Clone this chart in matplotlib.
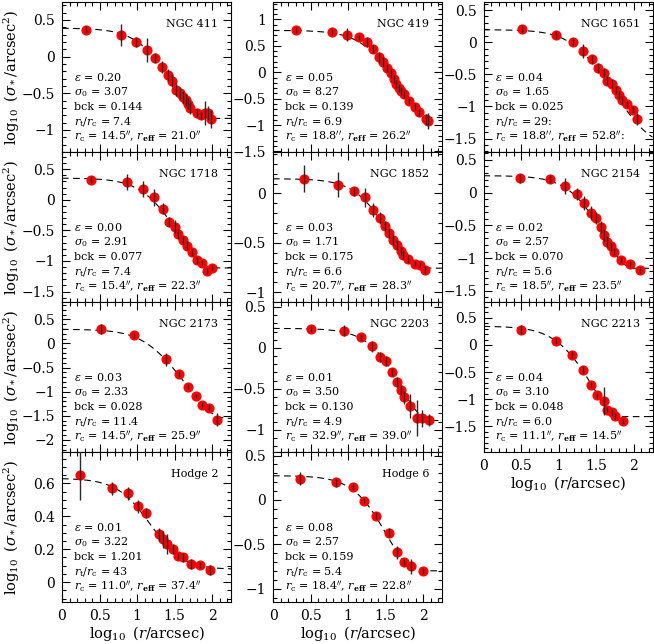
import numpy as np
import matplotlib.pyplot as plt
from matplotlib.ticker import MultipleLocator, FuncFormatter

plt.rcParams['font.family'] = 'DejaVu Serif'
plt.rcParams['mathtext.fontset'] = 'dejavuserif'

# cluster names and fit parameters printed in each panel
names = ["NGC 411", "NGC 419", "NGC 1651", "NGC 1718", "NGC 1852", "NGC 2154",
         "NGC 2173", "NGC 2203", "NGC 2213", "Hodge 2", "Hodge 6"]
eps = ["0.20", "0.05", "0.04", "0.00", "0.03", "0.02", "0.03", "0.01", "0.04", "0.01", "0.08"]
sigma0 = ["3.07", "8.27", "1.65", "2.91", "1.71", "2.57", "2.33", "3.50", "3.10", "3.22", "2.57"]
bck = ["0.144", "0.139", "0.025", "0.077", "0.175", "0.070", "0.028", "0.130", "0.048", "1.201", "0.159"]
rt_rc = ["7.4", "6.9", "29:", "7.4", "6.6", "5.6", "11.4", "4.9", "6.0", "43", "5.4"]
rc = ["14.5", "18.8", "18.8", "15.4", "20.7", "18.5", "14.5", "32.9", "11.1", "11.0", "18.4"]
reff = ["21.0", "26.2", "52.8", "22.3", "28.3", "23.5", "25.9", "39.0", "14.5", "37.4", "22.8"]
reff_flag = ["", "", ":", "", "", "", "", "", "", "", ""]

# measured profiles: log10 r, log10 sigma, error
ngc411_x = [0.32, 0.78, 0.99, 1.13, 1.24, 1.33, 1.41, 1.47, 1.52, 1.57, 1.61, 1.65, 1.68, 1.71, 1.80, 1.85, 1.91, 1.94, 1.98]
ngc411_y = [0.37, 0.30, 0.20, 0.09, -0.02, -0.14, -0.25, -0.33, -0.45, -0.50, -0.55, -0.59, -0.64, -0.70, -0.77, -0.80, -0.77, -0.77, -0.85]
ngc411_e = [0.05, 0.15, 0.07, 0.16, 0.07, 0.08, 0.08, 0.09, 0.09, 0.08, 0.08, 0.08, 0.08, 0.08, 0.05, 0.05, 0.16, 0.10, 0.12]

ngc419_x = [0.31, 0.78, 0.99, 1.15, 1.25, 1.33, 1.41, 1.47, 1.52, 1.57, 1.61, 1.64, 1.68, 1.71, 1.75, 1.81, 1.89, 1.95, 2.04, 2.07]
ngc419_y = [0.80, 0.76, 0.71, 0.66, 0.57, 0.44, 0.28, 0.19, 0.08, -0.02, -0.13, -0.22, -0.30, -0.36, -0.41, -0.54, -0.65, -0.76, -0.89, -0.92]
ngc419_e = [0.05, 0.06, 0.12, 0.05, 0.10, 0.08, 0.10, 0.10, 0.08, 0.08, 0.08, 0.08, 0.08, 0.08, 0.08, 0.06, 0.06, 0.06, 0.10, 0.15]

ngc1651_x = [0.51, 0.97, 1.19, 1.33, 1.44, 1.52, 1.60, 1.65, 1.71, 1.76, 1.80, 1.85, 1.91, 1.99, 2.04]
ngc1651_y = [0.21, 0.11, 0.01, -0.14, -0.27, -0.40, -0.48, -0.60, -0.65, -0.75, -0.82, -0.90, -0.96, -1.05, -1.20]
ngc1651_e = [0.06, 0.06, 0.06, 0.11, 0.07, 0.08, 0.07, 0.07, 0.07, 0.06, 0.06, 0.06, 0.05, 0.05, 0.09]

ngc1718_x = [0.38, 0.86, 1.08, 1.22, 1.34, 1.42, 1.50, 1.55, 1.61, 1.67, 1.73, 1.80, 1.87, 1.93, 2.00]
ngc1718_y = [0.33, 0.29, 0.18, 0.04, -0.15, -0.36, -0.44, -0.56, -0.66, -0.75, -0.86, -0.99, -1.04, -1.16, -1.11]
ngc1718_e = [0.06, 0.13, 0.13, 0.14, 0.09, 0.08, 0.11, 0.08, 0.07, 0.07, 0.06, 0.06, 0.05, 0.05, 0.04]

ngc1852_x = [0.41, 0.86, 1.08, 1.22, 1.33, 1.42, 1.49, 1.55, 1.60, 1.65, 1.70, 1.73, 1.80, 1.89, 1.96, 2.02]
ngc1852_y = [0.15, 0.09, 0.02, -0.04, -0.17, -0.25, -0.33, -0.40, -0.47, -0.52, -0.58, -0.62, -0.66, -0.71, -0.72, -0.78]
ngc1852_e = [0.14, 0.13, 0.05, 0.10, 0.07, 0.06, 0.05, 0.05, 0.05, 0.05, 0.04, 0.04, 0.04, 0.03, 0.03, 0.04]

ngc2154_x = [0.48, 0.89, 1.09, 1.24, 1.34, 1.43, 1.50, 1.56, 1.61, 1.65, 1.70, 1.74, 1.83, 1.95, 2.08]
ngc2154_y = [0.22, 0.21, 0.10, -0.02, -0.16, -0.31, -0.39, -0.52, -0.65, -0.75, -0.82, -0.90, -1.03, -1.09, -1.18]
ngc2154_e = [0.07, 0.06, 0.12, 0.09, 0.11, 0.11, 0.09, 0.09, 0.09, 0.08, 0.07, 0.06, 0.04, 0.04, 0.05]

ngc2173_x = [0.52, 0.96, 1.39, 1.56, 1.68, 1.78, 1.87, 1.96, 2.06]
ngc2173_y = [0.30, 0.17, -0.33, -0.64, -0.90, -1.09, -1.28, -1.33, -1.58]
ngc2173_e = [0.10, 0.05, 0.14, 0.06, 0.05, 0.05, 0.06, 0.07, 0.13]

ngc2203_x = [0.50, 0.95, 1.17, 1.32, 1.43, 1.51, 1.59, 1.65, 1.71, 1.75, 1.82, 1.92, 1.98, 2.08]
ngc2203_y = [0.23, 0.21, 0.13, 0.02, -0.11, -0.16, -0.29, -0.42, -0.51, -0.60, -0.71, -0.85, -0.86, -0.88]
ngc2203_e = [0.04, 0.07, 0.04, 0.07, 0.06, 0.06, 0.05, 0.06, 0.06, 0.08, 0.15, 0.22, 0.10, 0.07]

ngc2213_x = [0.50, 0.96, 1.18, 1.32, 1.43, 1.51, 1.60, 1.65, 1.71, 1.75, 1.86]
ngc2213_y = [0.28, 0.07, -0.18, -0.46, -0.73, -0.93, -1.03, -1.19, -1.24, -1.31, -1.40]
ngc2213_e = [0.08, 0.06, 0.06, 0.07, 0.04, 0.04, 0.25, 0.05, 0.06, 0.05, 0.06]

hodge2_x = [0.24, 0.67, 0.88, 1.01, 1.12, 1.29, 1.35, 1.40, 1.48, 1.55, 1.61, 1.72, 1.84, 1.97]
hodge2_y = [0.65, 0.57, 0.54, 0.46, 0.42, 0.29, 0.26, 0.23, 0.20, 0.16, 0.15, 0.11, 0.105, 0.075]
hodge2_e = [0.15, 0.04, 0.04, 0.04, 0.03, 0.04, 0.05, 0.06, 0.03, 0.02, 0.03, 0.03, 0.02, 0.03]

hodge6_x = [0.36, 0.84, 1.06, 1.21, 1.37, 1.54, 1.65, 1.75, 1.84, 2.00]
hodge6_y = [0.24, 0.20, 0.15, -0.01, -0.18, -0.37, -0.59, -0.70, -0.75, -0.80]
hodge6_e = [0.07, 0.05, 0.04, 0.03, 0.04, 0.05, 0.07, 0.04, 0.08, 0.03]

profiles = [(ngc411_x, ngc411_y, ngc411_e), (ngc419_x, ngc419_y, ngc419_e),
            (ngc1651_x, ngc1651_y, ngc1651_e), (ngc1718_x, ngc1718_y, ngc1718_e),
            (ngc1852_x, ngc1852_y, ngc1852_e), (ngc2154_x, ngc2154_y, ngc2154_e),
            (ngc2173_x, ngc2173_y, ngc2173_e), (ngc2203_x, ngc2203_y, ngc2203_e),
            (ngc2213_x, ngc2213_y, ngc2213_e), (hodge2_x, hodge2_y, hodge2_e),
            (hodge6_x, hodge6_y, hodge6_e)]

# the dashed curve in the NGC 2203 panel sits below its printed fit; match the drawn one
curve_fix = {"NGC 2203": (2.5, 28.0)}

ylims = [(-1.30, 0.745), (-1.51, 1.33), (-1.71, 0.625), (-1.67, 0.78),
         (-1.10, 0.42), (-1.67, 0.62), (-2.25, 0.86), (-1.27, 0.56),
         (-1.97, 0.79), (-0.12, 0.79), (-1.15, 0.54)]


def king(r, k, r_c, ratio, b):
    t = 1.0 / np.sqrt(1.0 + ratio ** 2)
    s = 1.0 / np.sqrt(1.0 + (r / r_c) ** 2) - t
    s = np.where(r < ratio * r_c, s, 0.0)
    return k * s ** 2 + b


def fmt(v, pos):
    v = round(v, 3) + 0.0
    return ("%g" % v).replace("-", "\u2212")


W, H = 654, 644
fig = plt.figure(figsize=(W / 100, H / 100), dpi=100)
col_left = [62, 273, 483.5]
ax_w, ax_h = 169, 150
row_top = [2, 152, 302, 452]

xm = np.linspace(0, 2.25, 400)

for i, name in enumerate(names):
    row, col = i // 3, i % 3
    ax = fig.add_axes([col_left[col] / W, 1 - (row_top[row] + ax_h) / H, ax_w / W, ax_h / H])

    k, r_c = float(sigma0[i]), float(rc[i])
    if name in curve_fix:
        k, r_c = curve_fix[name]
    ratio = float(rt_rc[i].rstrip(":"))
    model = king(10 ** xm, k, r_c, ratio, float(bck[i]))
    ax.plot(xm, np.log10(model), color="k", lw=0.8, dashes=(6, 4), zorder=2)

    x, y, e = profiles[i]
    ax.plot(x, y, "o", ms=6.3, mfc="red", mec="red", zorder=3)
    ax.errorbar(x, y, yerr=e, fmt="none", ecolor="#2a2a2a", elinewidth=1.0, capsize=0, zorder=4)

    ax.set_xlim(0, 2.25)
    ax.set_ylim(*ylims[i])
    ax.xaxis.set_major_locator(MultipleLocator(0.5))
    ax.xaxis.set_minor_locator(MultipleLocator(0.1))
    if name == "Hodge 2":
        ax.yaxis.set_major_locator(MultipleLocator(0.2))
        ax.yaxis.set_minor_locator(MultipleLocator(0.05))
    else:
        ax.yaxis.set_major_locator(MultipleLocator(0.5))
        ax.yaxis.set_minor_locator(MultipleLocator(0.1))
    ax.yaxis.set_major_formatter(FuncFormatter(fmt))
    ax.xaxis.set_major_formatter(FuncFormatter(fmt))
    ax.tick_params(which="both", direction="in", top=True, right=True, width=0.8,
                   labelsize=10, pad=5)
    ax.tick_params(which="major", length=6)
    ax.tick_params(which="minor", length=3)
    for sp in ax.spines.values():
        sp.set_linewidth(0.8)

    if i in (8, 9, 10):
        ax.set_xlabel(r"$\log_{10}\ (r/{\rm arcsec})$", fontsize=10.5, labelpad=1)
    else:
        ax.tick_params(labelbottom=False)

    ax.text(0.925, 0.855, name, transform=ax.transAxes, ha="right", va="center", fontsize=8)
    lines = [r"$\varepsilon$ = " + eps[i],
             r"$\sigma_0$ = " + sigma0[i],
             "bck = " + bck[i],
             r"$r_{\rm t}/r_{\rm c}$ = " + rt_rc[i],
             r"$r_{\rm c}$ = " + rc[i] + r"$^{\prime\prime}$, $r_{\mathbf{eff}}$ = "
             + reff[i] + r"$^{\prime\prime}$" + reff_flag[i]]
    for j, line in enumerate(lines):
        ax.text(0.07, 0.50 - 0.10 * j, line, transform=ax.transAxes,
                ha="left", va="center", fontsize=8)

for row in range(4):
    yc = 1 - (row_top[row] + ax_h / 2) / H
    fig.text(12 / W, yc, r"$\log_{10}\ (\sigma_*/{\rm arcsec}^2)$", rotation=90,
             ha="center", va="center", fontsize=10.5)

fig.savefig("out.png", dpi=100)
